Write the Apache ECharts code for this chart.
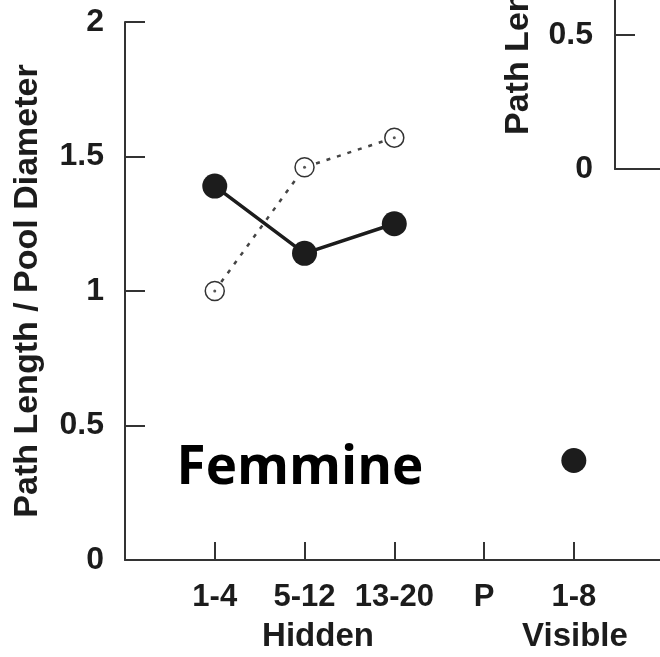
<!DOCTYPE html>
<html>
<head>
<meta charset="utf-8">
<script src="https://cdn.jsdelivr.net/npm/echarts@6/dist/echarts.min.js"></script>
<style>
  html, body { margin: 0; padding: 0; background: #fff; }
  #chart { width: 660px; height: 657px; }
</style>
</head>
<body>
<div id="chart"></div>
<script>
// tick labels along the bottom
var xTickLabels = ['1-4', '5-12', '13-20', 'P', '1-8']
var yTicks = [0, 0.5, 1, 1.5, 2]
// values
var filledHidden = [1.39, 1.14, 1.25]   // filled circles, solid line
var openHidden = [1.0, 1.46, 1.57]      // open circles, dashed line
var filledVisible = [0.37]              // visible 1-8
var insetTicks = [0, 0.5]

var ink = '#1c1c1c'
var axisCol = '#333'
var font = 'Liberation Sans, Arial, sans-serif'
var narrow = 'Liberation Sans Narrow, Liberation Sans, Arial, sans-serif'

function toPoints(vals, start) {
    return vals.map(function (v, i) { return [start + i, v] })
}
var visibleStart = xTickLabels.indexOf('1-8') + 1

var chart = echarts.init(document.getElementById('chart'))
chart.setOption({
    animation: false,
    grid: [
        { left: 125, right: 0, top: 22, bottom: 97 },
        // cropped second panel top right
        { left: 615, right: 0, top: 0, bottom: 488 }
    ],
    xAxis: [{
        type: 'value',
        gridIndex: 0,
        min: 0,
        max: 5.96,
        interval: 1,
        splitLine: { show: false },
        axisLine: { lineStyle: { color: axisCol, width: 2 } },
        axisTick: {
            inside: true, length: 18,
            customValues: [1, 2, 3, 4, 5],
            lineStyle: { color: axisCol, width: 2 }
        },
        axisLabel: {
            customValues: [1, 2, 3, 4, 5],
            margin: 22,
            color: ink,
            fontFamily: font,
            fontWeight: 'bold',
            fontSize: 31,
            formatter: function (v) { return xTickLabels[Math.round(v) - 1] || '' }
        }
    }, {
        type: 'value',
        gridIndex: 1,
        min: 0,
        max: 1,
        splitLine: { show: false },
        axisLine: { lineStyle: { color: axisCol, width: 2 } },
        axisTick: { show: false },
        axisLabel: { show: false }
    }],
    yAxis: [{
        type: 'value',
        gridIndex: 0,
        min: 0,
        max: 2,
        interval: 0.5,
        name: 'Path Length / Pool Diameter',
        nameLocation: 'middle',
        nameGap: 80,
        nameTextStyle: { color: ink, fontFamily: font, fontWeight: 'bold', fontSize: 34 },
        splitLine: { show: false },
        axisLine: { lineStyle: { color: axisCol, width: 2 } },
        axisTick: { inside: true, length: 20, lineStyle: { color: axisCol, width: 2 } },
        axisLabel: {
            customValues: yTicks,
            margin: 21,
            color: ink,
            fontFamily: font,
            fontWeight: 'bold',
            fontSize: 32,
            formatter: function (v) {
                return v < 1 ? '{n|' + v + '}' : String(v)
            },
            rich: { n: { fontFamily: narrow, fontWeight: 'bold', fontSize: 32, color: ink } }
        }
    }, {
        type: 'value',
        gridIndex: 1,
        min: 0,
        max: 0.63,
        splitLine: { show: false },
        axisLine: { lineStyle: { color: axisCol, width: 2 } },
        axisTick: {
            inside: true, length: 20, customValues: insetTicks,
            lineStyle: { color: axisCol, width: 2 }
        },
        axisLabel: {
            customValues: insetTicks,
            margin: 22,
            color: ink,
            fontFamily: narrow,
            fontWeight: 'bold',
            fontSize: 32
        }
    }],
    graphic: [{
        type: 'text',
        x: 300, y: 469,
        style: {
            text: 'Femmine', fill: '#000',
            font: 'bold 53px "Open Sans", sans-serif',
            align: 'center', verticalAlign: 'middle'
        }
    }, {
        type: 'text',
        x: 318, y: 637,
        style: {
            text: 'Hidden', fill: ink,
            font: 'bold 33px ' + font,
            align: 'center', verticalAlign: 'middle'
        }
    }, {
        type: 'text',
        x: 575, y: 637,
        style: {
            text: 'Visible', fill: ink,
            font: 'bold 33px ' + font,
            align: 'center', verticalAlign: 'middle'
        }
    }, {
        type: 'text',
        x: 519, y: 135,
        rotation: Math.PI / 2,
        style: {
            text: 'Path Length / Pool Diameter', fill: ink,
            font: 'bold 34px ' + narrow,
            align: 'left', verticalAlign: 'middle'
        }
    }],
    series: [{
        type: 'line',
        data: toPoints(openHidden, 1),
        symbol: 'circle',
        symbolSize: 19,
        lineStyle: { color: '#444', width: 2.5, type: [4, 7] },
        itemStyle: { color: '#fff', borderColor: '#333', borderWidth: 1.5 },
        z: 2
    }, {
        type: 'scatter',
        data: toPoints(openHidden, 1),
        symbolSize: 3,
        itemStyle: { color: '#555', opacity: 1 },
        z: 3
    }, {
        type: 'line',
        data: toPoints(filledHidden, 1),
        symbol: 'circle',
        symbolSize: 25,
        lineStyle: { color: ink, width: 3.5 },
        itemStyle: { color: ink },
        z: 4
    }, {
        type: 'scatter',
        data: toPoints(filledVisible, visibleStart),
        symbolSize: 25,
        itemStyle: { color: ink, opacity: 1 },
        z: 4
    }]
})
</script>
</body>
</html>
